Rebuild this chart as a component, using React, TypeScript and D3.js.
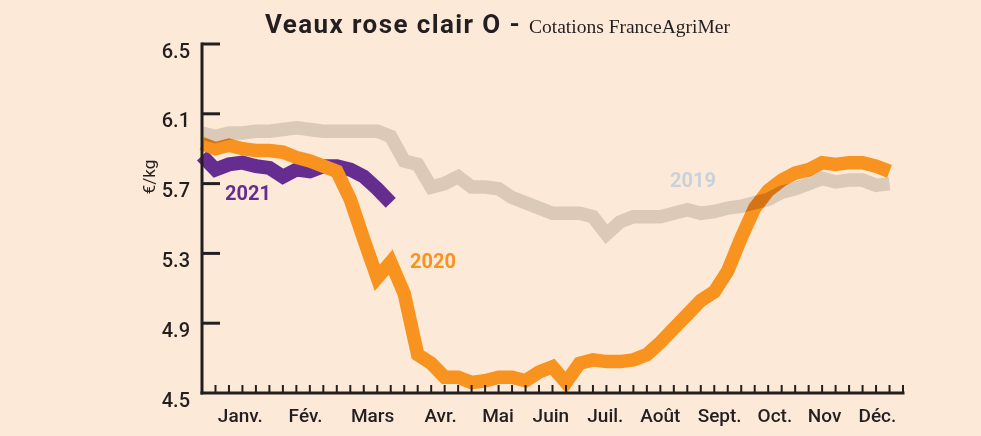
import React from "react";
import * as d3 from "d3";

const W = 981;
const H = 436;

const yTicks = [4.5, 4.9, 5.3, 5.7, 6.1, 6.5];
const months = ["Janv.", "Fév.", "Mars", "Avr.", "Mai", "Juin", "Juil.", "Août", "Sept.", "Oct.", "Nov", "Déc."];
const monthWeek = [2.84, 7.68, 12.66, 17.7, 21.96, 25.88, 29.92, 34.0, 38.4, 42.5, 46.18, 50.1];

const s2019 = [5.99, 5.97, 5.99, 5.99, 6.0, 6.0, 6.01, 6.02, 6.01, 6.0, 6.0, 6.0, 6.0, 6.0, 5.97, 5.83, 5.81, 5.68, 5.7, 5.74,
  5.68, 5.68, 5.67, 5.62, 5.59, 5.56, 5.53, 5.53, 5.53, 5.51, 5.41, 5.48, 5.51, 5.51, 5.51, 5.53, 5.55, 5.53, 5.54, 5.56,
  5.57, 5.59, 5.61, 5.65, 5.67, 5.7, 5.73, 5.71, 5.72, 5.72, 5.69, 5.7];
const s2020 = [5.93, 5.9, 5.92, 5.9, 5.89, 5.89, 5.88, 5.85, 5.83, 5.8, 5.77, 5.61, 5.38, 5.16, 5.25, 5.07, 4.72, 4.67, 4.59, 4.59,
  4.56, 4.57, 4.59, 4.59, 4.57, 4.62, 4.65, 4.56, 4.67, 4.69, 4.68, 4.68, 4.69, 4.72, 4.79, 4.87, 4.95, 5.03, 5.08, 5.2,
  5.39, 5.56, 5.66, 5.72, 5.76, 5.78, 5.82, 5.81, 5.82, 5.82, 5.8, 5.77];
const s2021 = [5.86, 5.78, 5.81, 5.82, 5.8, 5.79, 5.74, 5.78, 5.77, 5.8, 5.8, 5.78, 5.74, 5.67, 5.59];

const BG = "#fde9d8";
const INK = "#231f20";
const ORANGE = "#f7931e";
const GREY = "#dccab9";
const PURPLE = "#662d91";
const LBL2019 = "#c9d2da";

export default function App() {
  const x = d3.scaleLinear().domain([0, 52]).range([202, 903]);
  const y = d3.scaleLinear().domain([4.5, 6.5]).range([393, 44]);
  const line = d3
    .line<number>()
    .x((_, i) => x(i))
    .y((d) => y(d));
  const weekTicks = d3.range(1, 53);
  const font = "Roboto, 'DejaVu Sans', sans-serif";
  const dOrange = line(s2020) || "";
  const dGrey = line(s2019) || "";
  const dPurple = line(s2021) || "";
  return (
    <svg width={W} height={H} style={{ position: "absolute", left: 0, top: 0, display: "block" }}>
      <defs>
        <mask id="orangeMask" maskUnits="userSpaceOnUse" x="0" y="0" width={W} height={H}>
          <path d={dOrange} fill="none" stroke="white" strokeWidth={13.5} strokeLinejoin="miter" />
        </mask>
      </defs>
      <rect x={0} y={0} width={W} height={H} fill={BG} />
      <text x={265} y={33} fontFamily={font} fill={INK}>
        <tspan fontWeight={700} fontSize={26} letterSpacing={1.4}>Veaux rose clair O - </tspan>
        <tspan fontFamily="'Liberation Serif', 'DejaVu Serif', serif" fontSize={19.5} letterSpacing={0}>Cotations FranceAgriMer</tspan>
      </text>

      {/* lines */}
      <path d={dPurple} fill="none" stroke={PURPLE} strokeWidth={14} strokeLinejoin="miter" />
      <path d={dGrey} fill="none" stroke={GREY} strokeWidth={13.5} strokeLinejoin="miter" />
      <path d={dOrange} fill="none" stroke={ORANGE} strokeWidth={13.5} strokeLinejoin="miter" />
      <path d={dGrey} fill="none" stroke={GREY} strokeWidth={13.5} strokeLinejoin="miter" mask="url(#orangeMask)" style={{ mixBlendMode: "multiply" }} />

      {/* series labels */}
      <text x={225} y={200} fontFamily={font} fontWeight={700} fontSize={20} fill={PURPLE}>2021</text>
      <text x={410} y={268} fontFamily={font} fontWeight={700} fontSize={20} fill={ORANGE}>2020</text>
      <text x={670} y={187} fontFamily={font} fontWeight={700} fontSize={20} fill={LBL2019}>2019</text>

      {/* y axis */}
      <line x1={202} x2={202} y1={y(6.5) - 1.5} y2={y(4.5) + 1.5} stroke={INK} strokeWidth={3} />
      {yTicks.map((t) => (
        <g key={t}>
          {t > 4.5 && <line x1={202} x2={220} y1={y(t)} y2={y(t)} stroke={INK} strokeWidth={3} />}
          <text x={190} y={y(t) + 13.5} textAnchor="end" fontFamily={font} fontWeight={500} fontSize={20} fill={INK}>
            {t.toFixed(1)}
          </text>
        </g>
      ))}
      <text
        transform={`translate(155, 177) rotate(-90)`}
        textAnchor="middle"
        fontFamily={font}
        fontSize={17}
        fill={INK}
      >
        €/kg
      </text>

      {/* x axis */}
      <line x1={200.5} x2={x(52) + 1.5} y1={393} y2={393} stroke={INK} strokeWidth={3} />
      {weekTicks.map((w) => (
        <line key={w} x1={x(w)} x2={x(w)} y1={393} y2={385} stroke={INK} strokeWidth={2} />
      ))}
      {months.map((m, i) => (
        <text key={m} x={x(monthWeek[i])} y={422} textAnchor="middle" fontFamily={font} fontWeight={500} fontSize={19} fill={INK}>
          {m}
        </text>
      ))}
    </svg>
  );
}
